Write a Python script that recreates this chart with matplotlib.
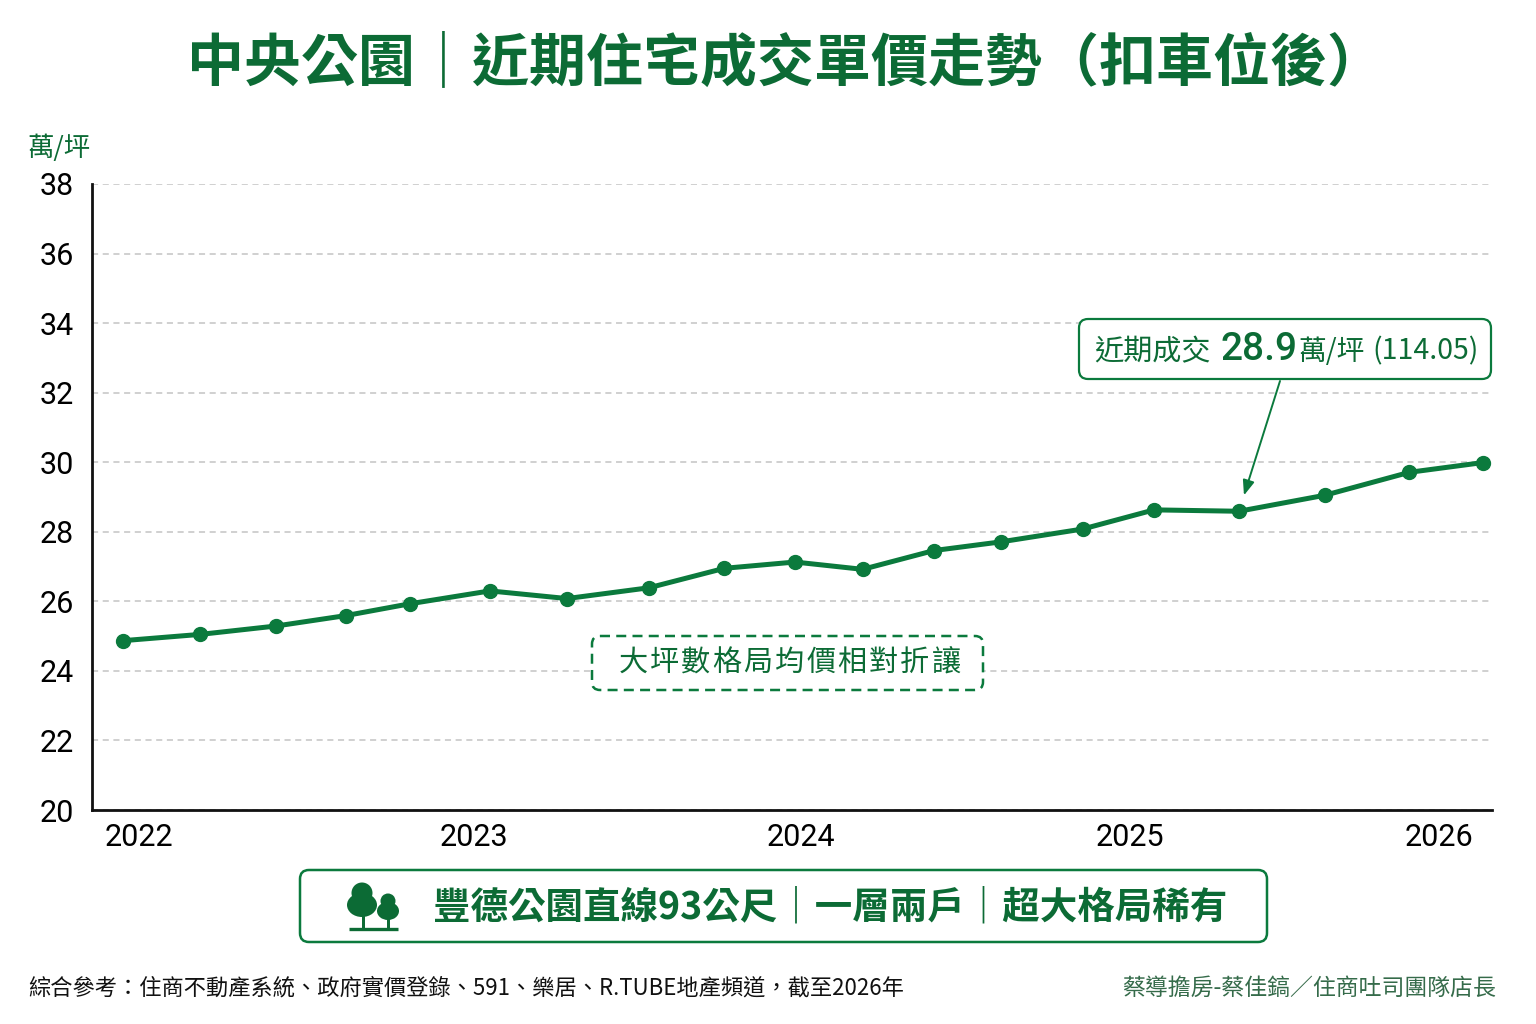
import matplotlib
matplotlib.use('Agg')
import matplotlib.pyplot as plt
from matplotlib.patches import FancyBboxPatch, Circle, Ellipse, Rectangle

plt.rcParams['font.family'] = ['Noto Sans CJK TC', 'DejaVu Sans']

# ---- data ----
years = [2021.952, 2022.189, 2022.421, 2022.636, 2022.833, 2023.079, 2023.316,
         2023.568, 2023.800, 2024.017, 2024.225, 2024.444, 2024.650, 2024.902,
         2025.121, 2025.382, 2025.646, 2025.906, 2026.132]
prices = [24.87, 25.05, 25.29, 25.59, 25.93, 26.30, 26.08, 26.39, 26.95, 27.13,
          26.92, 27.46, 27.71, 28.08, 28.63, 28.59, 29.05, 29.71, 29.99]
year_ticks = [2022.0, 2023.03, 2024.035, 2025.047, 2025.997]
year_labels = ['2022', '2023', '2024', '2025', '2026']
price_ticks = list(range(20, 39, 2))
highlight_idx = 15

title = '中央公園｜近期住宅成交單價走勢（扣車位後）'
unit_label = '萬/坪'
note_text = '大坪數格局均價相對折讓'
banner_text = '豐德公園直線93公尺｜一層兩戶｜超大格局稀有'
source_text = '綜合參考：住商不動產系統、政府實價登錄、591、樂居、R.TUBE地產頻道，截至2026年'
author_text = '蔡導擔房-蔡佳鎬／住商吐司團隊店長'

GREEN = '#0b7a3d'
DARK = '#0c6b35'
W, H = 1536, 1024

fig = plt.figure(figsize=(W / 100, H / 100), dpi=100, facecolor='white')

# main chart
ax = fig.add_axes([92 / W, 1 - 810 / H, 1400 / W, 626 / H])
ax.plot(years, prices, color=GREEN, lw=3.6, marker='o', ms=10,
        solid_capstyle='round', clip_on=False, zorder=3)
ax.set_xlim(2021.8555, 2026.16)
ax.set_ylim(20, 38)
ax.set_yticks(price_ticks)
ax.set_xticks(year_ticks)
ax.set_xticklabels(year_labels)
for t in ax.get_xticklabels() + ax.get_yticklabels():
    t.set_fontfamily('Roboto')
    t.set_fontsize(22)
ax.tick_params(axis='y', length=0, pad=13)
ax.tick_params(axis='x', length=0, pad=9)
ax.grid(axis='y', color='#c4c4c4', ls=(0, (4, 3)), lw=1.1)
ax.set_axisbelow(True)
for s in ['top', 'right']:
    ax.spines[s].set_visible(False)
for s in ['left', 'bottom']:
    ax.spines[s].set_linewidth(2)
    ax.spines[s].set_color('#111111')

# overlay in pixel units for boxes and text
ov = fig.add_axes([0, 0, 1, 1], zorder=5)
ov.set_xlim(0, W)
ov.set_ylim(H, 0)
ov.axis('off')
ov.patch.set_visible(False)

ov.text(786, 63, title, ha='center', va='center', fontsize=41,
        fontweight='bold', color=DARK)
ov.text(27, 148, unit_label, ha='left', va='center', fontsize=19, color=DARK)

# callout box
ov.add_patch(FancyBboxPatch((1079, 319), 412, 60,
                            boxstyle='round,pad=0,rounding_size=9',
                            fc='white', ec=GREEN, lw=1.6))
ov.text(1094, 352, '近期成交', ha='left', va='center', fontsize=21,
        fontweight='medium', color=DARK)
ov.text(1220, 349, '28.9', ha='left', va='center', fontsize=28,
        fontweight='medium', color=DARK, family='Roboto')
ov.text(1298, 352, '萬/坪', ha='left', va='center', fontsize=20,
        fontweight='medium', color=DARK)
ov.text(1372, 351, '(114.05)', ha='left', va='center', fontsize=20.5,
        fontweight='medium', color=DARK)
ax.annotate('', xy=(years[highlight_idx], prices[highlight_idx]),
            xytext=(1280, 381), textcoords=ov.transData,
            arrowprops=dict(arrowstyle='-|>,head_length=0.9,head_width=0.35',
                            color=GREEN, lw=1.4, shrinkA=0, shrinkB=12))

# dashed note box
ov.add_patch(FancyBboxPatch((592, 636), 391, 54,
                            boxstyle='round,pad=0,rounding_size=8',
                            fc='white', ec=GREEN, lw=1.8, ls=(0, (4, 2.5))))
for i, ch in enumerate(note_text):
    ov.text(633 + i * 31.3, 663, ch, ha='center', va='center', fontsize=21,
            fontweight='medium', color=DARK)

# bottom banner
ov.add_patch(FancyBboxPatch((300, 870), 967, 72,
                            boxstyle='round,pad=0,rounding_size=9',
                            fc='white', ec=GREEN, lw=1.8))
ov.text(830, 907, banner_text, ha='center', va='center', fontsize=27,
        fontweight='bold', color=DARK)

# tree icon
ov.add_patch(Rectangle((361.5, 912), 3.5, 17, color=DARK, lw=0))
ov.add_patch(Circle((362, 893), 10.5, color=DARK, lw=0))
ov.add_patch(Ellipse((362, 905), 30, 24, color=DARK, lw=0))
ov.add_patch(Rectangle((386.5, 915), 3, 14, color=DARK, lw=0))
ov.add_patch(Circle((388, 901), 7.5, color=DARK, lw=0))
ov.add_patch(Ellipse((388, 911), 22, 18, color=DARK, lw=0))
ov.plot([349, 398], [929, 929], color=DARK, lw=2.4, solid_capstyle='butt')

# footer
ov.text(28, 988, source_text, ha='left', va='center', fontsize=16,
        color='#111111')
ov.text(1496, 988, author_text, ha='right', va='center', fontsize=16.5,
        color='#356b4a')

fig.savefig('out.png', dpi=100, facecolor='white')
